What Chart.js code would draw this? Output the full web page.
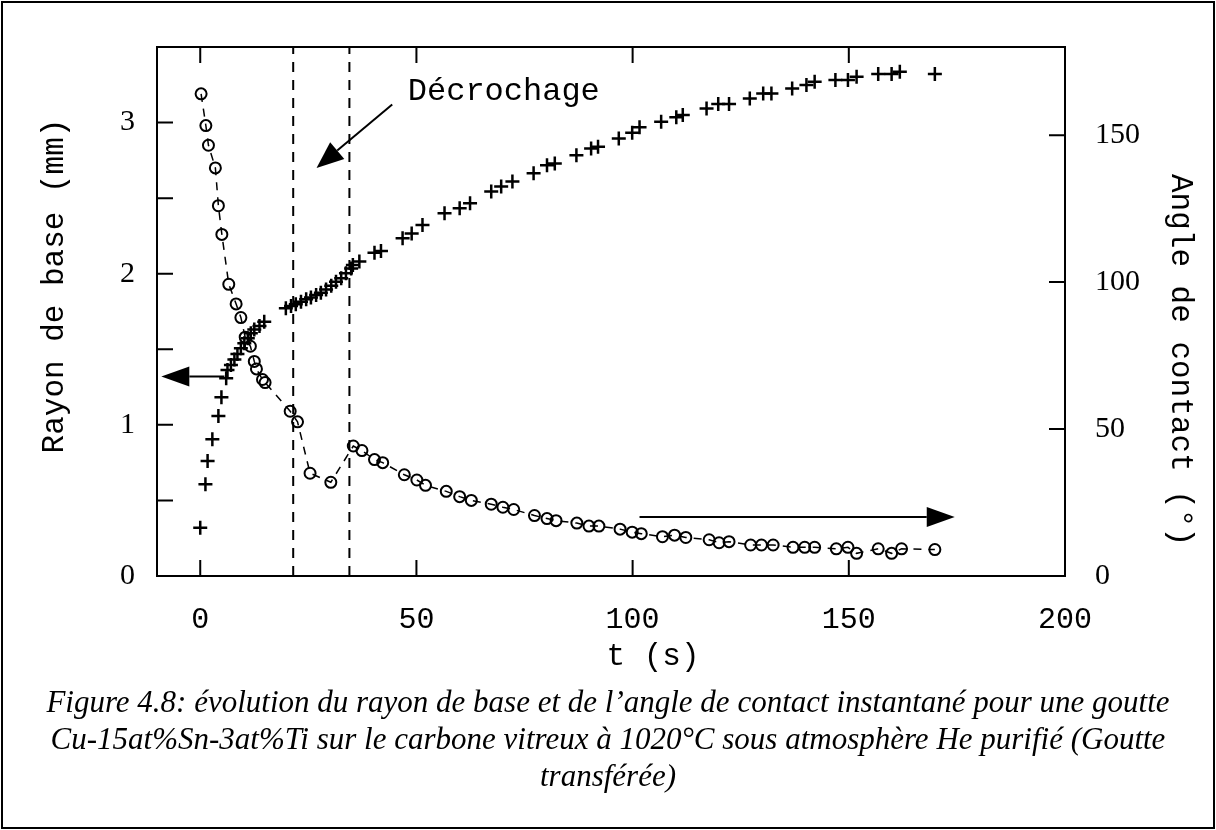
<!DOCTYPE html>
<html>
<head>
<meta charset="utf-8">
<script src="https://cdn.jsdelivr.net/npm/chart.js@4.4.1/dist/chart.umd.min.js"></script>
<style>
    html, body { margin: 0; padding: 0; background: #fff; }
    #page { position: relative; width: 1216px; height: 830px; overflow: hidden; }
    #graphe { position: absolute; left: 0; top: 0; }
    #cadre { position: absolute; left: 1px; top: 1px; width: 1210px; height: 824px; border: 2px solid #000; pointer-events: none; }
    #legende {
        position: absolute; left: 0; top: 683px; width: 1216px;
        text-align: center; font-family: "Liberation Serif", "Times New Roman", serif;
        font-style: italic; font-size: 31px; line-height: 37px; color: #000;
    }
</style>
</head>
<body>
<div id="page">
    <canvas id="graphe" width="1216" height="680"></canvas>
    <div id="cadre"></div>
    <div id="legende">
        Figure 4.8: évolution du rayon de base et de l’angle de contact instantané pour une goutte<br>
        Cu-15at%Sn-3at%Ti sur le carbone vitreux à 1020°C sous atmosphère He purifié (Goutte<br>
        transférée)
    </div>
</div>
<script>
// Rayon de base (mm) en fonction du temps (s) - cercles
const tempsRayon = [0.2, 1.3, 1.9, 3.5, 4.2, 5.0, 6.6, 8.3, 9.4, 10.4, 11.6, 12.5, 13.0, 14.4, 15.0,
    20.8, 22.5, 25.4, 30.2, 35.4, 37.4, 40.3, 42.2, 47.2, 50.1, 52.1, 56.9, 60.0, 62.7,
    67.3, 70.0, 72.5, 77.3, 80.2, 82.3, 87.1, 89.9, 92.2, 97.1, 99.9, 102.0, 106.9, 109.7, 112.3,
    117.7, 120.0, 122.3, 127.3, 129.8, 132.5, 137.1, 139.8, 142.1, 147.1, 149.8, 151.8,
    156.8, 159.9, 162.2, 169.9];
const rayon = [3.19, 2.98, 2.85, 2.70, 2.45, 2.26, 1.93, 1.80, 1.71, 1.58, 1.52, 1.42, 1.37, 1.30, 1.28,
    1.09, 1.02, 0.68, 0.62, 0.86, 0.83, 0.77, 0.75, 0.67, 0.635, 0.60, 0.56, 0.525, 0.50,
    0.475, 0.455, 0.44, 0.40, 0.38, 0.366, 0.35, 0.33, 0.33, 0.31, 0.29, 0.28, 0.26, 0.27, 0.255,
    0.24, 0.22, 0.227, 0.205, 0.205, 0.205, 0.19, 0.19, 0.19, 0.18, 0.19, 0.15,
    0.18, 0.15, 0.18, 0.175];

// Angle de contact (°) en fonction du temps (s) - croix
const tempsAngle = [0.0, 1.2, 1.7, 2.8, 4.2, 4.9, 6.0, 6.3, 7.1, 7.9, 8.6, 9.4, 10.2, 11.0, 11.7, 12.5, 13.7, 14.8,
    19.8, 21.0, 22.1, 23.3, 24.5, 25.6, 26.8, 27.9, 29.1, 30.3, 31.4, 32.6, 33.7, 34.9, 35.3, 36.8,
    40.3, 41.8, 46.8, 48.9, 51.4, 56.5, 60.0, 62.4, 67.3, 69.6, 72.2, 77.1, 80.2, 82.0,
    87.0, 90.4, 92.0, 96.8, 99.9, 101.6, 106.6, 110.1, 111.6, 117.1, 119.8, 122.3,
    127.1, 130.2, 132.1, 136.9, 140.2, 142.1, 146.9, 149.8, 151.8, 156.8, 159.9, 161.8, 169.9];
const angle = [16.4, 31.2, 39.1, 46.5, 54.4, 60.8, 67.3, 70.1, 71.8, 73.7, 75.5, 77.5, 79.2, 80.9, 82.6, 83.9, 85.1, 86.5,
    91.1, 91.9, 92.5, 93.3, 94.2, 94.8, 95.6, 96.4, 97.5, 98.8, 100.1, 101.3, 103.0, 104.6, 105.8, 107.0,
    110.0, 110.6, 114.9, 116.5, 119.4, 123.4, 125.1, 126.8, 130.8, 132.5, 134.2, 137.0, 139.8, 140.4,
    143.2, 145.5, 146.1, 148.9, 150.8, 152.7, 154.6, 156.1, 156.9, 159.1, 160.6, 160.6,
    162.5, 164.2, 164.2, 165.9, 167.1, 168.2, 168.8, 168.8, 169.9, 170.8, 170.8, 171.6, 170.8];

// Instants du décrochage (lignes verticales en tirets)
const decrochage = [21.5, 34.5];

// Axes
const tMin = -10, tMax = 200, tPas = 50;
const rMin = 0, rMax = 3.5, rPas = 0.5;
const aMin = 0, aMax = 180, aPas = 50;

const MONO = '"Liberation Mono", "Courier New", monospace';
const SERIF = '"Liberation Serif", "Times New Roman", serif';
const TICK = 16;

function fleche(ctx, x1, y1, x2, y2, long, demi) {
    const ang = Math.atan2(y2 - y1, x2 - x1);
    const bx = x2 - long * Math.cos(ang), by = y2 - long * Math.sin(ang);
    ctx.beginPath();
    ctx.moveTo(x1, y1);
    ctx.lineTo(bx, by);
    ctx.stroke();
    ctx.beginPath();
    ctx.moveTo(x2, y2);
    ctx.lineTo(bx + demi * Math.sin(ang), by - demi * Math.cos(ang));
    ctx.lineTo(bx - demi * Math.sin(ang), by + demi * Math.cos(ang));
    ctx.closePath();
    ctx.fill();
}

// cadre, graduations intérieures, flèches et textes
const decorPlugin = {
    id: 'decor',
    afterDraw(chart) {
        const { ctx, chartArea: a, scales } = chart;
        const sx = scales.x, sy = scales.y, sa = scales.y2;
        ctx.save();
        ctx.strokeStyle = '#000';
        ctx.fillStyle = '#000';
        ctx.lineWidth = 2;
        ctx.setLineDash([]);
        ctx.strokeRect(a.left, a.top, a.right - a.left, a.bottom - a.top);

        ctx.beginPath();
        sx.ticks.forEach(t => {
            const px = sx.getPixelForValue(t.value);
            if (px <= a.left + 2 || px >= a.right - 2) return;
            ctx.moveTo(px, a.bottom); ctx.lineTo(px, a.bottom - TICK);
            ctx.moveTo(px, a.top); ctx.lineTo(px, a.top + TICK);
        });
        sy.ticks.forEach(t => {
            const py = sy.getPixelForValue(t.value);
            if (py <= a.top + 2 || py >= a.bottom - 2) return;
            ctx.moveTo(a.left, py); ctx.lineTo(a.left + TICK, py);
        });
        sa.ticks.forEach(t => {
            const py = sa.getPixelForValue(t.value);
            if (py <= a.top + 2 || py >= a.bottom - 2) return;
            ctx.moveTo(a.right, py); ctx.lineTo(a.right - TICK, py);
        });
        ctx.stroke();

        // flèches (coordonnées dans les unités des axes t / rayon)
        const X = v => sx.getPixelForValue(v), Y = v => sy.getPixelForValue(v);
        fleche(ctx, X(5.6), Y(1.32), X(-9.0), Y(1.32), 28, 10);
        fleche(ctx, X(101.6), Y(0.39), X(174.5), Y(0.39), 28, 10);
        fleche(ctx, X(44.4), Y(3.12), X(26.9), Y(2.70), 27, 11);

        ctx.font = '32px ' + MONO;
        ctx.textAlign = 'left';
        ctx.textBaseline = 'alphabetic';
        ctx.fillText('Décrochage', X(48.0), Y(3.15));

        // titres des axes
        ctx.font = '31px ' + MONO;
        ctx.textAlign = 'center';
        ctx.textBaseline = 'middle';
        ctx.fillText('t (s)', 653, 657);

        ctx.save();
        ctx.translate(55, 286);
        ctx.rotate(-Math.PI / 2);
        ctx.fillText('Rayon de base (mm)', 0, 0);
        ctx.restore();

        ctx.save();
        ctx.translate(1180, 360);
        ctx.rotate(Math.PI / 2);
        ctx.fillText('Angle de contact (°)', 0, 0);
        ctx.restore();

        ctx.restore();
    }
};

const pointsRayon = tempsRayon.map((t, i) => ({ x: t, y: rayon[i] }));
const pointsAngle = tempsAngle.map((t, i) => ({ x: t, y: angle[i] }));

const datasets = [
    {
        label: 'Rayon de base',
        data: pointsRayon,
        yAxisID: 'y',
        showLine: true,
        borderColor: '#000',
        borderWidth: 1.5,
        borderDash: [8, 7],
        pointStyle: 'circle',
        pointRadius: 5.5,
        pointBorderWidth: 2,
        pointBorderColor: '#000',
        pointBackgroundColor: 'rgba(0,0,0,0)'
    },
    {
        label: 'Angle de contact',
        data: pointsAngle,
        yAxisID: 'y2',
        showLine: false,
        pointStyle: 'cross',
        pointRadius: 7,
        pointBorderWidth: 2.5,
        pointBorderColor: '#000',
        pointBackgroundColor: '#000'
    }
];
decrochage.forEach(t => {
    datasets.push({
        label: 'décrochage',
        data: [{ x: t, y: rMin }, { x: t, y: rMax }],
        yAxisID: 'y',
        showLine: true,
        borderColor: '#000',
        borderWidth: 2,
        borderDash: [10, 8],
        pointRadius: 0
    });
});

new Chart(document.getElementById('graphe'), {
    type: 'scatter',
    data: { datasets: datasets },
    options: {
        responsive: false,
        animation: false,
        devicePixelRatio: 1,
        layout: { padding: { top: 47, left: 0, right: 0, bottom: 0 } },
        plugins: {
            legend: { display: false },
            tooltip: { enabled: false }
        },
        scales: {
            x: {
                type: 'linear',
                position: 'bottom',
                min: tMin, max: tMax,
                grid: { display: false },
                border: { display: false },
                ticks: {
                    stepSize: tPas,
                    includeBounds: false,
                    maxRotation: 0,
                    padding: 18,
                    color: '#000',
                    font: { family: MONO, size: 30 }
                },
                afterFit: s => { s.height = 104; }
            },
            y: {
                type: 'linear',
                position: 'left',
                min: rMin, max: rMax,
                grid: { display: false },
                border: { display: false },
                ticks: {
                    stepSize: rPas,
                    padding: 14,
                    color: '#000',
                    font: { family: SERIF, size: 30 },
                    callback: v => Number.isInteger(v) ? String(v) : ''
                },
                afterFit: s => { s.width = 157; }
            },
            y2: {
                type: 'linear',
                position: 'right',
                min: aMin, max: aMax,
                grid: { display: false },
                border: { display: false },
                ticks: {
                    stepSize: aPas,
                    includeBounds: false,
                    padding: 22,
                    color: '#000',
                    font: { family: SERIF, size: 30 }
                },
                afterFit: s => { s.width = 151; }
            }
        }
    },
    plugins: [decorPlugin]
});
</script>
</body>
</html>
